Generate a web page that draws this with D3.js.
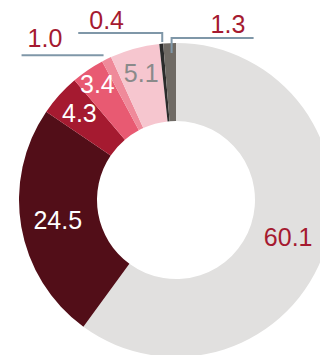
<!DOCTYPE html>
<html><head><meta charset="utf-8">
<script src="https://cdn.jsdelivr.net/npm/d3@7"></script>
<style>html,body{margin:0;padding:0;background:#fff;}svg{display:block;}</style>
</head><body>
<svg id="c" width="320" height="355"></svg>
<script>
const categories = ["A","B","C","D","E","F","G","H"];
const values = [60.1, 24.5, 4.3, 3.4, 1.0, 5.1, 0.4, 1.3];
const labels = ["60.1","24.5","4.3","3.4","1.0","5.1","0.4","1.3"];
const colors = ["#e1e0df","#520e18","#a51a30","#e85a72","#ef8a9a","#f6c6cf","#2b2b2b","#6f6a64"];
const labelColors = ["#a51a30","#ffffff","#ffffff","#ffffff","#a51a30","#8a8a8a","#a51a30","#a51a30"];

const svg = d3.select("#c");
const cx = 176, cy = 200, rOuter = 157, rInner = 79;
const g = svg.append("g").attr("transform", `translate(${cx},${cy})`);

const pie = d3.pie().sort(null).value(d => d)(values);
const arc = d3.arc().innerRadius(rInner).outerRadius(rOuter);

g.selectAll("path.s").data(pie).enter().append("path")
  .attr("d", arc).attr("fill", (d,i) => colors[i]);

const fs = 25;
const insideR = {0:118, 1:120, 2:130, 3:140, 5:132};
const font = "Liberation Sans, Arial, sans-serif";
pie.forEach((d,i) => {
  if (insideR[i] === undefined) return;
  const a = (d.startAngle + d.endAngle)/2;
  const r = insideR[i];
  g.append("text").attr("x", r*Math.sin(a)).attr("y", -r*Math.cos(a))
    .attr("text-anchor","middle").attr("dominant-baseline","central")
    .attr("font-family", font).attr("font-size", fs)
    .attr("fill", labelColors[i]).text(labels[i]);
});

const lineColor = "#7f97a8";
function outerPt(d, r){ const a=(d.startAngle+d.endAngle)/2; return [r*Math.sin(a), -r*Math.cos(a)]; }
// 1.0
{
  const d = pie[4]; const p = outerPt(d, rOuter);
  const y = p[1] - 4, x1 = p[0] - 3, x0 = x1 - 82;
  g.append("line").attr("x1",x0).attr("x2",x1).attr("y1",y).attr("y2",y)
    .attr("stroke",lineColor).attr("stroke-width",2);
  g.append("text").attr("x", x0+6).attr("y", y-8).attr("font-family",font).attr("font-size",fs)
    .attr("fill",labelColors[4]).text(labels[4]);
}
// 0.4
{
  const d = pie[6]; const p = outerPt(d, rOuter);
  const vx = p[0] + 1, yTop = -cy + 33, yBot = -cy + 42;
  g.append("path").attr("d", `M${vx-84},${yTop}H${vx}V${yBot}`).attr("fill","none")
    .attr("stroke",lineColor).attr("stroke-width",2);
  g.append("text").attr("x", vx-73).attr("y", yTop-4).attr("font-family",font).attr("font-size",fs)
    .attr("fill",labelColors[6]).text(labels[6]);
}
// 1.3
{
  const d = pie[7]; const p = outerPt(d, rOuter);
  const vx = p[0] + 2, yTop = -cy + 38, yBot = -cy + 53;
  g.append("path").attr("d", `M${vx},${yBot}V${yTop}H${vx+82}`).attr("fill","none")
    .attr("stroke",lineColor).attr("stroke-width",2);
  g.append("text").attr("x", vx+39).attr("y", yTop-5).attr("font-family",font).attr("font-size",fs)
    .attr("fill",labelColors[7]).text(labels[7]);
}
</script>
</body></html>
